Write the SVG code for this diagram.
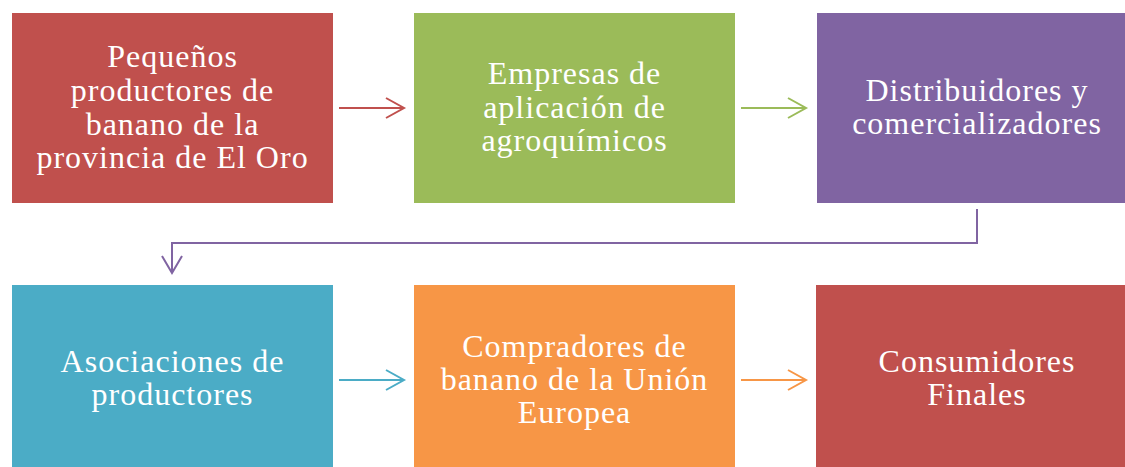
<svg xmlns="http://www.w3.org/2000/svg" width="1125" height="467" viewBox="0 0 1125 467">
<style>
.t{font-family:"Liberation Serif","Times New Roman",serif;font-size:32px;fill:#fff;text-anchor:middle;letter-spacing:1px}
.c{fill:none;stroke-width:2}
</style>
<rect width="1125" height="467" fill="#fff"/>
<g id="connectors">
<g class="c" stroke="#C0504D"><path d="M339 108H404M386 98L404 108L386 118"/></g>
<g class="c" stroke="#9BBB59"><path d="M741 108H806M788 98L806 108L788 118"/></g>
<g class="c" stroke="#8064A2"><path d="M977 209V243H172V273M162 256L172 273L182 256"/></g>
<g class="c" stroke="#4BACC6"><path d="M339 380H404M386 370L404 380L386 390"/></g>
<g class="c" stroke="#F79646"><path d="M741 380H806M788 370L806 380L788 390"/></g>
</g>
<g id="n1"><rect x="12" y="13" width="321" height="190" fill="#C0504D"/>
<text class="t" x="172.5" y="67">Pequeños</text>
<text class="t" x="172.5" y="101">productores de</text>
<text class="t" x="172.5" y="135">banano  de la</text>
<text class="t" x="172.5" y="168">provincia  de El Oro</text></g>
<g id="n2"><rect x="414" y="13" width="321" height="190" fill="#9BBB59"/>
<text class="t" x="574.5" y="84">Empresas  de</text>
<text class="t" x="574.5" y="118">aplicación de</text>
<text class="t" x="574.5" y="151">agroquímicos</text></g>
<g id="n3"><rect x="817" y="13" width="308" height="190" fill="#8064A2"/>
<text class="t" x="977" y="101">Distribuidores y</text>
<text class="t" x="977" y="134">comercializadores</text></g>
<g id="n4"><rect x="12" y="285" width="321" height="182" fill="#4BACC6"/>
<text class="t" x="172.5" y="372">Asociaciones de</text>
<text class="t" x="172.5" y="405">productores</text></g>
<g id="n5"><rect x="414" y="285" width="321" height="182" fill="#F79646"/>
<text class="t" x="574.5" y="357">Compradores  de</text>
<text class="t" x="574.5" y="390">banano  de la Unión</text>
<text class="t" x="574.5" y="423">Europea</text></g>
<g id="n6"><rect x="816" y="285" width="309" height="182" fill="#C0504D"/>
<text class="t" x="977" y="372">Consumidores</text>
<text class="t" x="977" y="405">Finales</text></g>
</svg>
